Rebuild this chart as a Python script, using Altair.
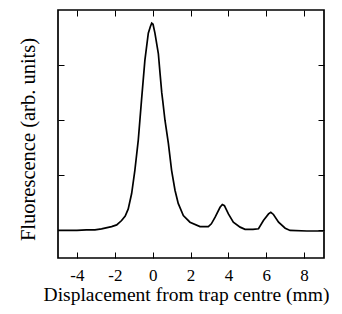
import altair as alt
import pandas as pd

# Displacement from trap centre (mm)
displacement = [-5.0, -4.0, -3.5, -3.05, -2.7, -2.17, -1.9, -1.64, -1.45, -1.29, -1.11,
                -0.94, -0.76, -0.58, -0.41, -0.23, -0.12, -0.05, 0.02, 0.12, 0.30, 0.39,
                0.48, 0.53, 0.65, 0.83, 1.0, 1.18, 1.35, 1.62, 1.97, 2.5, 2.94, 3.1, 3.30,
                3.56, 3.68, 3.79, 4.0, 4.26, 4.62, 4.88, 5.3, 5.59, 5.85, 6.12, 6.24, 6.38,
                6.65, 7.0, 7.26, 8.15, 9.0]
# Fluorescence (arb. units)
fluorescence = [0.0, 0.0, 0.01, 0.01, 0.03, 0.07, 0.10, 0.18, 0.26, 0.39, 0.67,
                1.09, 1.64, 2.40, 3.09, 3.58, 3.70, 3.76, 3.74, 3.58, 3.21, 2.85,
                2.50, 2.36, 2.0, 1.58, 1.09, 0.73, 0.49, 0.27, 0.15, 0.07, 0.07, 0.12, 0.24,
                0.42, 0.47, 0.45, 0.30, 0.15, 0.06, 0.02, 0.02, 0.03, 0.18, 0.30, 0.33, 0.29,
                0.15, 0.04, 0.0, -0.01, -0.01]

x_ticks = [-4, -2, 0, 2, 4, 6, 8]
y_ticks = [0, 1, 2, 3]

df = pd.DataFrame({"x": displacement, "y": fluorescence})

FONT = "Liberation Serif"
xscale = alt.Scale(domain=[-5, 9.05], nice=False, zero=False)
yscale = alt.Scale(domain=[-0.5, 4.0], nice=False, zero=False)

base = alt.Chart(df)

main = base.mark_line(color="black", strokeWidth=1.7).encode(
    x=alt.X("x:Q", scale=xscale,
            axis=alt.Axis(orient="bottom", values=x_ticks, tickSize=6, offset=-6,
                          domain=False, grid=False, tickColor="black", tickWidth=1,
                          labelFont=FONT, labelFontSize=17, labelColor="black",
                          labelPadding=9, labelExpr="datum.value + ''",
                          title="Displacement from trap centre (mm)",
                          titleFont=FONT, titleFontSize=19.5, titleFontWeight="normal",
                          titleColor="black", titleBaseline="alphabetic",
                          titleX=128, titleY=48)),
    y=alt.Y("y:Q", scale=yscale,
            axis=alt.Axis(orient="left", values=y_ticks, tickSize=6, offset=-6,
                          domain=False, grid=False, tickColor="black", tickWidth=1,
                          labels=False, title="Fluorescence (arb. units)",
                          titleFont=FONT, titleFontSize=20.5, titleFontWeight="normal",
                          titleColor="black", titleBaseline="alphabetic",
                          titleX=-30, titleY=129)),
)

mirror = base.mark_line(opacity=0).encode(
    x=alt.X("x:Q", scale=xscale,
            axis=alt.Axis(orient="top", values=x_ticks, tickSize=6, offset=-6,
                          domain=False, grid=False, tickColor="black", tickWidth=1,
                          labels=False, title=None)),
    y=alt.Y("y:Q", scale=yscale,
            axis=alt.Axis(orient="right", values=y_ticks, tickSize=6, offset=-6,
                          domain=False, grid=False, tickColor="black", tickWidth=1,
                          labels=False, title=None)),
)

chart = alt.layer(main, mirror).resolve_axis(
    x="independent", y="independent"
).properties(
    width=266, height=248,
    autosize=alt.AutoSizeParams(type="none"),
    padding={"left": 50, "top": 2, "right": 10, "bottom": 52},
).configure_view(
    stroke="black", strokeWidth=1.7
)

chart.save("out.html", embed_options={"renderer": "svg", "actions": False})
